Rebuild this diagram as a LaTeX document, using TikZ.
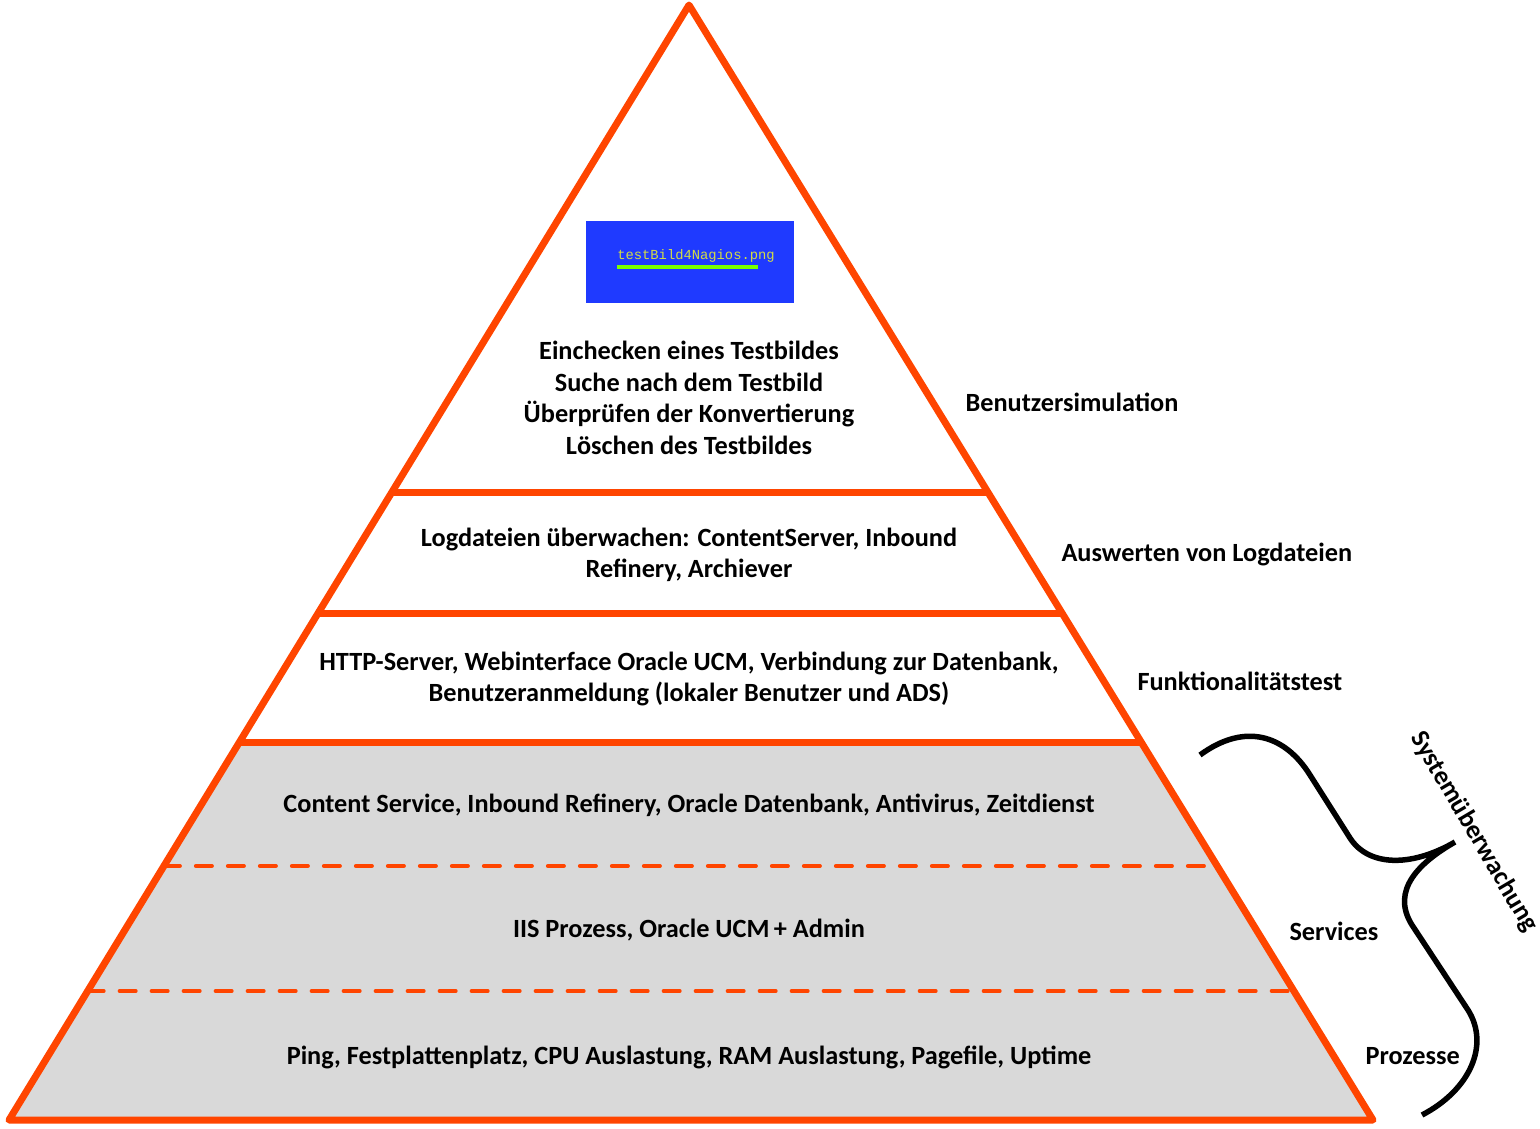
\documentclass[tikz,border=0pt]{standalone}
\usepackage{fontspec}
\setmainfont{Carlito}
\setmonofont{Liberation Mono}
\usetikzlibrary{calc}

\definecolor{pyramidred}{RGB}{255,69,0}
\definecolor{layergray}{RGB}{217,217,217}
\definecolor{shotblue}{RGB}{31,58,255}
\definecolor{shotyellow}{RGB}{210,220,70}
\definecolor{shotgreen}{RGB}{120,255,0}

\tikzset{
  layertext/.style={font=\bfseries\fontsize{26.3}{31.5}\selectfont, align=center},
  sidetext/.style={font=\bfseries\fontsize{26.3}{31.5}\selectfont, anchor=west},
  outline/.style={pyramidred, line width=7pt, line join=round},
  dashline/.style={pyramidred, line width=4pt, dash pattern=on 16pt off 16pt, line cap=round},
}

\begin{document}
\begin{tikzpicture}[x=1pt,y=-1pt]
\useasboundingbox (0,0) rectangle (1540,1128);

\coordinate (apex) at (689,5);
\coordinate (bl) at (9,1120);
\coordinate (br) at (1373,1120);

% layer borders on the edges
\coordinate (l1) at ($(apex)!0.4368!(bl)$);
\coordinate (r1) at ($(apex)!0.4368!(br)$);
\coordinate (l2) at ($(apex)!0.5453!(bl)$);
\coordinate (r2) at ($(apex)!0.5453!(br)$);
\coordinate (l3) at ($(apex)!0.6610!(bl)$);
\coordinate (r3) at ($(apex)!0.6610!(br)$);
\coordinate (l4) at ($(apex)!0.7722!(bl)$);
\coordinate (r4) at ($(apex)!0.7722!(br)$);
\coordinate (l5) at ($(apex)!0.8843!(bl)$);
\coordinate (r5) at ($(apex)!0.8843!(br)$);

\fill[layergray] (l3) -- (r3) -- (br) -- (bl) -- cycle;

\draw[dashline] (l4) -- (r4);
\draw[dashline] (l5) -- (r5);
\draw[outline] (l1) -- (r1);
\draw[outline] (l2) -- (r2);
\draw[outline] (l3) -- (r3);
\draw[outline] (apex) -- (br) -- (bl) -- cycle;

% screenshot
\node[fill=shotblue, minimum width=208pt, minimum height=82pt, inner sep=0pt] (shot) at (690,262) {};
\node[font=\ttfamily\fontsize{13.8}{14}\selectfont, text=shotyellow, inner sep=0pt] (shotname) at (696,256) {testBild4Nagios.png};
\draw[shotgreen, line width=4pt] (617,267) -- (758,267);

\node[layertext] (sim) at (689,398) {Einchecken eines Testbildes\\Suche nach dem Testbild\\Überprüfen der Konvertierung\\Löschen des Testbildes};
\node[layertext] (log) at (689,555) {Logdateien überwachen: ContentServer, Inbound\\Refinery, Archiever};
\node[layertext] (func) at (689,679) {HTTP-Server, Webinterface Oracle UCM, Verbindung zur Datenbank,\\Benutzeranmeldung (lokaler Benutzer und ADS)};
\node[layertext] (serv) at (689,805) {Content Service, Inbound Refinery, Oracle Datenbank, Antivirus, Zeitdienst};
\node[layertext] (proc) at (689,930) {IIS Prozess, Oracle UCM\,+ Admin};
\node[layertext] (sys) at (689,1057) {Ping, Festplattenplatz, CPU Auslastung, RAM Auslastung, Pagefile, Uptime};

\node[sidetext] (simlabel) at (962,402) {Benutzersimulation};
\node[sidetext] (loglabel) at (1058,554) {Auswerten von Logdateien};
\node[sidetext] (funclabel) at (1134,681) {Funktionalitätstest};
\node[sidetext] (servlabel) at (1286,931) {Services};
\node[sidetext] (proclabel) at (1362,1056) {Prozesse};

% brace
\draw[line width=5.5pt] (1200,755) .. controls (1245,722) and (1285,735) .. (1310,775) -- (1350,838) .. controls (1368,866) and (1410,868) .. (1455,842) .. controls (1420,862) and (1390,890) .. (1412,925) -- (1468,1010) .. controls (1490,1045) and (1470,1090) .. (1422,1115);
\node[font=\bfseries\fontsize{26.3}{31.5}\selectfont, rotate=-59.5] (brlabel) at (1474,832) {Systemüberwachung};
\end{tikzpicture}
\end{document}
